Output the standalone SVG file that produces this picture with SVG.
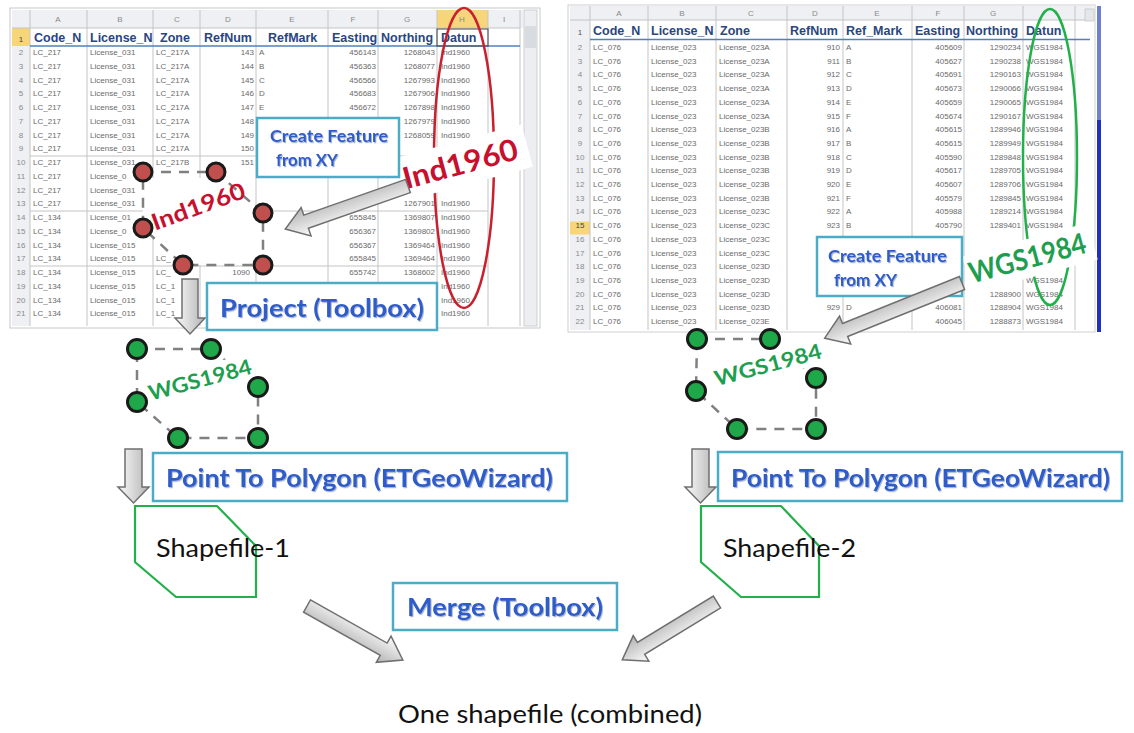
<svg xmlns="http://www.w3.org/2000/svg" width="1134" height="733" viewBox="0 0 1134 733">
<defs>
<style>
.c{font-family:"Liberation Sans",Arial,sans-serif;font-size:8px;fill:#6a6a6a}
.e{text-anchor:end}
.rn{font-family:"Liberation Sans",Arial,sans-serif;font-size:8px;fill:#8a8a8a;text-anchor:middle}
.cl{font-family:"Liberation Sans",Arial,sans-serif;font-size:8px;fill:#8a8a8a;text-anchor:middle}
.h{font-family:"Liberation Sans",Arial,sans-serif;font-size:12.5px;font-weight:bold;fill:#2a4680}
.grid{stroke:#c4c4c4;stroke-width:1}
.box{fill:#fff;stroke:#4bacc6;stroke-width:2.5}
.bt{font-family:Lato,"Liberation Sans",sans-serif;font-weight:bold;fill:#2f5bc9;filter:url(#sh)}
.plain{font-family:Lato,"Open Sans",sans-serif;fill:#111}
.dash{stroke:#808080;stroke-width:2.5;stroke-dasharray:10 8;fill:none}
.rd{fill:#c0504d;stroke:#1a1a1a;stroke-width:3}
.gd{fill:#1fa84a;stroke:#1a1a1a;stroke-width:3}
.arr{stroke:#6f6f6f;stroke-width:1.5}
.red{font-family:Lato,"Liberation Sans",sans-serif;font-weight:bold;fill:#c8102e}
.grn{font-family:Lato,"Liberation Sans",sans-serif;font-weight:bold;fill:#1e9e4f}
.shape{fill:none;stroke:#22b04b;stroke-width:2.2}
</style>
<linearGradient id="ga" x1="0" y1="0" x2="0" y2="1"><stop offset="0" stop-color="#fbfbfb"/><stop offset="1" stop-color="#b3b3b3"/></linearGradient>
<linearGradient id="gv" x1="0" y1="0" x2="1" y2="0"><stop offset="0" stop-color="#fbfbfb"/><stop offset="1" stop-color="#b3b3b3"/></linearGradient>
<filter id="sh" x="-5%" y="-20%" width="110%" height="150%"><feDropShadow dx="1" dy="1.2" stdDeviation="0.7" flood-color="#7f95c0" flood-opacity="0.7"/></filter>
</defs>
<rect width="1134" height="733" fill="#fff"/>

<!-- LEFT SPREADSHEET -->
<g id="sheet1">
<rect x="10" y="8" width="530" height="320" fill="#fff" stroke="#c8c8c8"/>
<rect x="12" y="10" width="511" height="18" fill="#eef0f3"/>
<rect x="12" y="28" width="18" height="298" fill="#eef0f3"/>
<rect x="437" y="10" width="51" height="18" fill="#f7d67a"/>
<rect x="12" y="28" width="18" height="18" fill="#f7d67a"/>
<rect x="524" y="10" width="13" height="316" fill="#eceef2" stroke="#cfcfcf"/>
<rect x="525" y="26" width="11" height="22" fill="#d8dbe0"/>
<g class="grid">
<line x1="30" y1="10" x2="30" y2="326"/><line x1="87" y1="10" x2="87" y2="326"/><line x1="153" y1="10" x2="153" y2="326"/><line x1="200" y1="10" x2="200" y2="326"/><line x1="256" y1="10" x2="256" y2="326"/><line x1="328" y1="10" x2="328" y2="326"/><line x1="378" y1="10" x2="378" y2="326"/><line x1="437" y1="10" x2="437" y2="326"/><line x1="488" y1="10" x2="488" y2="326"/><line x1="520" y1="10" x2="520" y2="326"/>
<line x1="12" y1="28" x2="520" y2="28"/>
<line x1="30" y1="156" x2="488" y2="156"/><line x1="30" y1="211" x2="488" y2="211"/><line x1="30" y1="266" x2="488" y2="266"/>
</g>
<line x1="30" y1="46" x2="520" y2="46" stroke="#4f81bd" stroke-width="1.5"/>
<rect x="437" y="29" width="51" height="17" fill="none" stroke="#444" stroke-width="1"/>
<text class="cl" y="22"><tspan x="58">A</tspan><tspan x="120">B</tspan><tspan x="177">C</tspan><tspan x="228">D</tspan><tspan x="292">E</tspan><tspan x="353">F</tspan><tspan x="407">G</tspan><tspan x="462">H</tspan><tspan x="504">I</tspan></text>
<text class="h" y="42"><tspan x="34">Code_N</tspan><tspan x="90">License_N</tspan><tspan x="160">Zone</tspan><tspan x="204">RefNum</tspan><tspan x="268">RefMark</tspan><tspan x="332">Easting</tspan><tspan x="381">Northing</tspan><tspan x="441">Datun</tspan></text>
<text class="rn"><tspan x="21" y="42" fill="#444">1</tspan><tspan x="21" y="55">2</tspan><tspan x="21" y="69">3</tspan><tspan x="21" y="82.5">4</tspan><tspan x="21" y="96">5</tspan><tspan x="21" y="110">6</tspan><tspan x="21" y="124">7</tspan><tspan x="21" y="137.5">8</tspan><tspan x="21" y="151">9</tspan><tspan x="21" y="165">10</tspan><tspan x="21" y="179">11</tspan><tspan x="21" y="192.5">12</tspan><tspan x="21" y="206">13</tspan><tspan x="21" y="220">14</tspan><tspan x="21" y="234">15</tspan><tspan x="21" y="247.5">16</tspan><tspan x="21" y="261">17</tspan><tspan x="21" y="275">18</tspan><tspan x="21" y="289">19</tspan><tspan x="21" y="302.5">20</tspan><tspan x="21" y="316">21</tspan></text>
<text class="c"><tspan x="33" y="55">LC_217</tspan><tspan x="33" y="69">LC_217</tspan><tspan x="33" y="82.5">LC_217</tspan><tspan x="33" y="96">LC_217</tspan><tspan x="33" y="110">LC_217</tspan><tspan x="33" y="124">LC_217</tspan><tspan x="33" y="137.5">LC_217</tspan><tspan x="33" y="151">LC_217</tspan><tspan x="33" y="165">LC_217</tspan><tspan x="33" y="179">LC_217</tspan><tspan x="33" y="192.5">LC_217</tspan><tspan x="33" y="206">LC_217</tspan><tspan x="33" y="220">LC_134</tspan><tspan x="33" y="234">LC_134</tspan><tspan x="33" y="247.5">LC_134</tspan><tspan x="33" y="261">LC_134</tspan><tspan x="33" y="275">LC_134</tspan><tspan x="33" y="289">LC_134</tspan><tspan x="33" y="302.5">LC_134</tspan><tspan x="33" y="316">LC_134</tspan></text>
<text class="c"><tspan x="90" y="55">License_031</tspan><tspan x="90" y="69">License_031</tspan><tspan x="90" y="82.5">License_031</tspan><tspan x="90" y="96">License_031</tspan><tspan x="90" y="110">License_031</tspan><tspan x="90" y="124">License_031</tspan><tspan x="90" y="137.5">License_031</tspan><tspan x="90" y="151">License_031</tspan><tspan x="90" y="165">License_031</tspan><tspan x="90" y="179">License_0</tspan><tspan x="90" y="192.5">License_031</tspan><tspan x="90" y="206">License_031</tspan><tspan x="90" y="220">License_01</tspan><tspan x="90" y="234">License_0</tspan><tspan x="90" y="247.5">License_015</tspan><tspan x="90" y="261">License_015</tspan><tspan x="90" y="275">License_015</tspan><tspan x="90" y="289">License_015</tspan><tspan x="90" y="302.5">License_015</tspan><tspan x="90" y="316">License_015</tspan></text>
<text class="c"><tspan x="156" y="55">LC_217A</tspan><tspan x="156" y="69">LC_217A</tspan><tspan x="156" y="82.5">LC_217A</tspan><tspan x="156" y="96">LC_217A</tspan><tspan x="156" y="110">LC_217A</tspan><tspan x="156" y="124">LC_217A</tspan><tspan x="156" y="137.5">LC_217A</tspan><tspan x="156" y="151">LC_217A</tspan><tspan x="156" y="165">LC_217B</tspan><tspan x="156" y="261">LC_</tspan><tspan x="156" y="275">LC_</tspan><tspan x="156" y="289">LC_1</tspan><tspan x="156" y="302.5">LC_1</tspan><tspan x="156" y="316">LC_1</tspan></text>
<text class="c e"><tspan x="254" y="55">143</tspan><tspan x="254" y="69">144</tspan><tspan x="254" y="82.5">145</tspan><tspan x="254" y="96">146</tspan><tspan x="254" y="110">147</tspan><tspan x="254" y="124">148</tspan><tspan x="254" y="137.5">149</tspan><tspan x="254" y="151">150</tspan><tspan x="254" y="165">151</tspan><tspan x="250" y="275">1090</tspan></text>
<text class="c"><tspan x="259" y="55">A</tspan><tspan x="259" y="69">B</tspan><tspan x="259" y="82.5">C</tspan><tspan x="259" y="96">D</tspan><tspan x="259" y="110">E</tspan></text>
<text class="c e"><tspan x="376" y="55">456143</tspan><tspan x="376" y="69">456363</tspan><tspan x="376" y="82.5">456566</tspan><tspan x="376" y="96">456683</tspan><tspan x="376" y="110">456672</tspan><tspan x="376" y="220">655845</tspan><tspan x="376" y="234">656367</tspan><tspan x="376" y="247.5">656367</tspan><tspan x="376" y="261">655845</tspan><tspan x="376" y="275">655742</tspan></text>
<text class="c e"><tspan x="435" y="55">1268043</tspan><tspan x="435" y="69">1268077</tspan><tspan x="435" y="82.5">1267993</tspan><tspan x="435" y="96">1267906</tspan><tspan x="435" y="110">1267898</tspan><tspan x="435" y="124">1267979</tspan><tspan x="435" y="137.5">1268059</tspan><tspan x="435" y="206">1267901</tspan><tspan x="435" y="220">1369807</tspan><tspan x="435" y="234">1369802</tspan><tspan x="435" y="247.5">1369464</tspan><tspan x="435" y="261">1369464</tspan><tspan x="435" y="275">1368602</tspan></text>
<text class="c"><tspan x="441" y="55">Ind1960</tspan><tspan x="441" y="69">Ind1960</tspan><tspan x="441" y="82.5">Ind1960</tspan><tspan x="441" y="96">Ind1960</tspan><tspan x="441" y="110">Ind1960</tspan><tspan x="441" y="124">Ind1960</tspan><tspan x="441" y="137.5">Ind1960</tspan><tspan x="441" y="206">Ind1960</tspan><tspan x="441" y="220">Ind1960</tspan><tspan x="441" y="234">Ind1960</tspan><tspan x="441" y="247.5">Ind1960</tspan><tspan x="441" y="261">Ind1960</tspan><tspan x="441" y="275">Ind1960</tspan><tspan x="441" y="289">Ind1960</tspan><tspan x="441" y="302.5">Ind1960</tspan><tspan x="441" y="316">Ind1960</tspan></text>
</g>

<!-- RIGHT SPREADSHEET -->
<g id="sheet2">
<rect x="568" y="5" width="527" height="327" fill="#fff" stroke="#d0d0d0"/>
<rect x="570" y="6" width="523" height="14" fill="#eef0f3"/>
<rect x="570" y="20" width="20" height="310" fill="#eef0f3"/>
<rect x="570" y="221.5" width="20" height="13" fill="#f7d67a"/>
<g class="grid">
<line x1="590" y1="6" x2="590" y2="330"/><line x1="648" y1="6" x2="648" y2="330"/><line x1="716" y1="6" x2="716" y2="330"/><line x1="787" y1="6" x2="787" y2="330"/><line x1="843" y1="6" x2="843" y2="330"/><line x1="912" y1="6" x2="912" y2="330"/><line x1="964" y1="6" x2="964" y2="330"/><line x1="1023" y1="6" x2="1023" y2="330"/><line x1="1075" y1="6" x2="1075" y2="330"/>
<line x1="570" y1="20" x2="1093" y2="20"/>
</g>
<line x1="590" y1="39.5" x2="1090" y2="39.5" stroke="#4f81bd" stroke-width="1.5"/>
<rect x="1085" y="9" width="9" height="12" fill="#e4e6ea" stroke="#bbb" stroke-width="0.6"/>
<line x1="1099" y1="6" x2="1099" y2="120" stroke="#6f7fd0" stroke-width="4"/>
<line x1="1099" y1="120" x2="1099" y2="332" stroke="#1f2fc0" stroke-width="4"/>
<text class="cl" y="16"><tspan x="619">A</tspan><tspan x="682">B</tspan><tspan x="751">C</tspan><tspan x="815">D</tspan><tspan x="877">E</tspan><tspan x="938">F</tspan><tspan x="993">G</tspan></text>
<text class="h" y="35"><tspan x="593">Code_N</tspan><tspan x="651">License_N</tspan><tspan x="720">Zone</tspan><tspan x="790">RefNum</tspan><tspan x="846">Ref_Mark</tspan><tspan x="915">Easting</tspan><tspan x="966">Northing</tspan><tspan x="1026">Datun</tspan></text>
<text class="rn"><tspan x="580" y="35" fill="#555">1</tspan><tspan x="580" y="50">2</tspan><tspan x="580" y="63.7">3</tspan><tspan x="580" y="77.4">4</tspan><tspan x="580" y="91.1">5</tspan><tspan x="580" y="104.8">6</tspan><tspan x="580" y="118.5">7</tspan><tspan x="580" y="132.2">8</tspan><tspan x="580" y="145.9">9</tspan><tspan x="580" y="159.6">10</tspan><tspan x="580" y="173.3">11</tspan><tspan x="580" y="187">12</tspan><tspan x="580" y="200.7">13</tspan><tspan x="580" y="214.4">14</tspan><tspan x="580" y="228.1" fill="#444">15</tspan><tspan x="580" y="241.8">16</tspan><tspan x="580" y="255.5">17</tspan><tspan x="580" y="269.2">18</tspan><tspan x="580" y="282.9">19</tspan><tspan x="580" y="296.6">20</tspan><tspan x="580" y="310.3">21</tspan><tspan x="580" y="324">22</tspan></text>
<text class="c"><tspan x="593" y="50">LC_076</tspan><tspan x="593" y="63.7">LC_076</tspan><tspan x="593" y="77.4">LC_076</tspan><tspan x="593" y="91.1">LC_076</tspan><tspan x="593" y="104.8">LC_076</tspan><tspan x="593" y="118.5">LC_076</tspan><tspan x="593" y="132.2">LC_076</tspan><tspan x="593" y="145.9">LC_076</tspan><tspan x="593" y="159.6">LC_076</tspan><tspan x="593" y="173.3">LC_076</tspan><tspan x="593" y="187">LC_076</tspan><tspan x="593" y="200.7">LC_076</tspan><tspan x="593" y="214.4">LC_076</tspan><tspan x="593" y="228.1">LC_076</tspan><tspan x="593" y="241.8">LC_076</tspan><tspan x="593" y="255.5">LC_076</tspan><tspan x="593" y="269.2">LC_076</tspan><tspan x="593" y="282.9">LC_076</tspan><tspan x="593" y="296.6">LC_076</tspan><tspan x="593" y="310.3">LC_076</tspan><tspan x="593" y="324">LC_076</tspan></text>
<text class="c"><tspan x="651" y="50">License_023</tspan><tspan x="651" y="63.7">License_023</tspan><tspan x="651" y="77.4">License_023</tspan><tspan x="651" y="91.1">License_023</tspan><tspan x="651" y="104.8">License_023</tspan><tspan x="651" y="118.5">License_023</tspan><tspan x="651" y="132.2">License_023</tspan><tspan x="651" y="145.9">License_023</tspan><tspan x="651" y="159.6">License_023</tspan><tspan x="651" y="173.3">License_023</tspan><tspan x="651" y="187">License_023</tspan><tspan x="651" y="200.7">License_023</tspan><tspan x="651" y="214.4">License_023</tspan><tspan x="651" y="228.1">License_023</tspan><tspan x="651" y="241.8">License_023</tspan><tspan x="651" y="255.5">License_023</tspan><tspan x="651" y="269.2">License_023</tspan><tspan x="651" y="282.9">License_023</tspan><tspan x="651" y="296.6">License_023</tspan><tspan x="651" y="310.3">License_023</tspan><tspan x="651" y="324">License_023</tspan></text>
<text class="c"><tspan x="719" y="50">License_023A</tspan><tspan x="719" y="63.7">License_023A</tspan><tspan x="719" y="77.4">License_023A</tspan><tspan x="719" y="91.1">License_023A</tspan><tspan x="719" y="104.8">License_023A</tspan><tspan x="719" y="118.5">License_023A</tspan><tspan x="719" y="132.2">License_023B</tspan><tspan x="719" y="145.9">License_023B</tspan><tspan x="719" y="159.6">License_023B</tspan><tspan x="719" y="173.3">License_023B</tspan><tspan x="719" y="187">License_023B</tspan><tspan x="719" y="200.7">License_023B</tspan><tspan x="719" y="214.4">License_023C</tspan><tspan x="719" y="228.1">License_023C</tspan><tspan x="719" y="241.8">License_023C</tspan><tspan x="719" y="255.5">License_023C</tspan><tspan x="719" y="269.2">License_023D</tspan><tspan x="719" y="282.9">License_023D</tspan><tspan x="719" y="296.6">License_023D</tspan><tspan x="719" y="310.3">License_023D</tspan><tspan x="719" y="324">License_023E</tspan></text>
<text class="c e"><tspan x="840" y="50">910</tspan><tspan x="840" y="63.7">911</tspan><tspan x="840" y="77.4">912</tspan><tspan x="840" y="91.1">913</tspan><tspan x="840" y="104.8">914</tspan><tspan x="840" y="118.5">915</tspan><tspan x="840" y="132.2">916</tspan><tspan x="840" y="145.9">917</tspan><tspan x="840" y="159.6">918</tspan><tspan x="840" y="173.3">919</tspan><tspan x="840" y="187">920</tspan><tspan x="840" y="200.7">921</tspan><tspan x="840" y="214.4">922</tspan><tspan x="840" y="228.1">923</tspan><tspan x="840" y="310.3">929</tspan></text>
<text class="c"><tspan x="846" y="50">A</tspan><tspan x="846" y="63.7">B</tspan><tspan x="846" y="77.4">C</tspan><tspan x="846" y="91.1">D</tspan><tspan x="846" y="104.8">E</tspan><tspan x="846" y="118.5">F</tspan><tspan x="846" y="132.2">A</tspan><tspan x="846" y="145.9">B</tspan><tspan x="846" y="159.6">C</tspan><tspan x="846" y="173.3">D</tspan><tspan x="846" y="187">E</tspan><tspan x="846" y="200.7">F</tspan><tspan x="846" y="214.4">A</tspan><tspan x="846" y="228.1">B</tspan><tspan x="846" y="310.3">D</tspan></text>
<text class="c e"><tspan x="962" y="50">405609</tspan><tspan x="962" y="63.7">405627</tspan><tspan x="962" y="77.4">405691</tspan><tspan x="962" y="91.1">405673</tspan><tspan x="962" y="104.8">405659</tspan><tspan x="962" y="118.5">405674</tspan><tspan x="962" y="132.2">405615</tspan><tspan x="962" y="145.9">405615</tspan><tspan x="962" y="159.6">405590</tspan><tspan x="962" y="173.3">405617</tspan><tspan x="962" y="187">405607</tspan><tspan x="962" y="200.7">405579</tspan><tspan x="962" y="214.4">405988</tspan><tspan x="962" y="228.1">405790</tspan><tspan x="962" y="310.3">406081</tspan><tspan x="962" y="324">406045</tspan></text>
<text class="c e"><tspan x="1021" y="50">1290234</tspan><tspan x="1021" y="63.7">1290238</tspan><tspan x="1021" y="77.4">1290163</tspan><tspan x="1021" y="91.1">1290066</tspan><tspan x="1021" y="104.8">1290065</tspan><tspan x="1021" y="118.5">1290167</tspan><tspan x="1021" y="132.2">1289946</tspan><tspan x="1021" y="145.9">1289949</tspan><tspan x="1021" y="159.6">1289848</tspan><tspan x="1021" y="173.3">1289705</tspan><tspan x="1021" y="187">1289706</tspan><tspan x="1021" y="200.7">1289845</tspan><tspan x="1021" y="214.4">1289214</tspan><tspan x="1021" y="228.1">1289401</tspan><tspan x="1021" y="296.6">1288900</tspan><tspan x="1021" y="310.3">1288904</tspan><tspan x="1021" y="324">1288873</tspan></text>
<text class="c"><tspan x="1026" y="50">WGS1984</tspan><tspan x="1026" y="63.7">WGS1984</tspan><tspan x="1026" y="77.4">WGS1984</tspan><tspan x="1026" y="91.1">WGS1984</tspan><tspan x="1026" y="104.8">WGS1984</tspan><tspan x="1026" y="118.5">WGS1984</tspan><tspan x="1026" y="132.2">WGS1984</tspan><tspan x="1026" y="145.9">WGS1984</tspan><tspan x="1026" y="159.6">WGS1984</tspan><tspan x="1026" y="173.3">WGS1984</tspan><tspan x="1026" y="187">WGS1984</tspan><tspan x="1026" y="200.7">WGS1984</tspan><tspan x="1026" y="214.4">WGS1984</tspan><tspan x="1026" y="228.1">WGS1984</tspan><tspan x="1026" y="282.9">WGS1984</tspan><tspan x="1026" y="296.6">WGS1984</tspan><tspan x="1026" y="310.3">WGS1984</tspan><tspan x="1026" y="324">WGS1984</tspan></text>
</g>

<!-- highlight ellipses -->
<g id="ellipses">
<ellipse cx="464" cy="158" rx="30" ry="150" fill="none" stroke="#c8202e" stroke-width="2.5"/>
<ellipse cx="1050" cy="157" rx="27" ry="148" fill="none" stroke="#22b04b" stroke-width="2.5"/>
</g>

<!-- big datum labels -->
<g id="label-ind1960">
<rect x="-67.5" y="-22" width="135" height="44" fill="#fff" transform="translate(462 163) rotate(-15)"/>
<text class="red" font-size="30" text-anchor="middle" textLength="118" lengthAdjust="spacingAndGlyphs" transform="translate(463 174) rotate(-15)">Ind1960</text>
</g>
<g id="label-wgs1984-top">
<rect x="-65" y="-19" width="130" height="38" fill="#fff" transform="translate(1030 258) rotate(-15)"/>
<text class="grn" font-size="29" text-anchor="middle" textLength="120" lengthAdjust="spacingAndGlyphs" transform="translate(1030 268) rotate(-15)">WGS1984</text>
</g>

<!-- Create Feature boxes -->
<g id="create-left">
<rect class="box" x="257" y="118" width="142" height="59"/>
<text class="bt" font-size="17" x="270" y="142" textLength="118" lengthAdjust="spacingAndGlyphs">Create Feature</text>
<text class="bt" font-size="17" x="276" y="166" textLength="62" lengthAdjust="spacingAndGlyphs">from XY</text>
</g>
<g id="create-right">
<rect class="box" x="817" y="237" width="145" height="59"/>
<text class="bt" font-size="17" x="828" y="262" textLength="119" lengthAdjust="spacingAndGlyphs">Create Feature</text>
<text class="bt" font-size="17" x="834" y="286" textLength="63" lengthAdjust="spacingAndGlyphs">from XY</text>
</g>

<!-- red point cluster -->
<g id="points-ind1960">
<polygon points="143,178 222,178 263,214 263,265 183,265 143,228" fill="#fff"/>
<path class="dash" d="M143,172 L216,172 L263,213 L263,265 L183,265 L143,228 Z"/>
<text class="red" font-size="23" text-anchor="middle" textLength="98" lengthAdjust="spacingAndGlyphs" transform="translate(201 214) rotate(-20)">Ind1960</text>
<circle class="rd" cx="143" cy="172" r="9"/><circle class="rd" cx="216" cy="172" r="9"/><circle class="rd" cx="263" cy="213" r="9"/><circle class="rd" cx="143" cy="228" r="9"/><circle class="rd" cx="183" cy="265" r="9"/><circle class="rd" cx="263" cy="265" r="9"/>
</g>

<!-- green point clusters -->
<g id="points-wgs-left">
<path class="dash" d="M137,349 L211,349 L258,387 L258,438 L178,438 L137,402 Z"/>
<rect x="-48" y="-13" width="96" height="26" fill="#fff" transform="translate(203 379) rotate(-15)"/>
<text class="grn" font-size="21" text-anchor="middle" textLength="106" lengthAdjust="spacingAndGlyphs" transform="translate(202 387) rotate(-15)">WGS1984</text>
<circle class="gd" cx="137" cy="349" r="9.5"/><circle class="gd" cx="211" cy="349" r="9.5"/><circle class="gd" cx="258" cy="387" r="9.5"/><circle class="gd" cx="137" cy="402" r="9.5"/><circle class="gd" cx="178" cy="438" r="9.5"/><circle class="gd" cx="258" cy="438" r="9.5"/>
</g>
<g id="points-wgs-right">
<path class="dash" d="M697,339 L770,339 L816,378 L816,429 L737,429 L696,391 Z"/>
<rect x="-50" y="-13" width="100" height="26" fill="#fff" transform="translate(770 364) rotate(-15)"/>
<text class="grn" font-size="21" text-anchor="middle" textLength="110" lengthAdjust="spacingAndGlyphs" transform="translate(770 372) rotate(-15)">WGS1984</text>
<circle class="gd" cx="697" cy="339" r="9.5"/><circle class="gd" cx="770" cy="339" r="9.5"/><circle class="gd" cx="816" cy="378" r="9.5"/><circle class="gd" cx="696" cy="391" r="9.5"/><circle class="gd" cx="737" cy="429" r="9.5"/><circle class="gd" cx="816" cy="429" r="9.5"/>
</g>

<!-- connectors (block arrows) -->
<g id="connectors">
<polygon class="arr" fill="url(#ga)" transform="translate(408 186) rotate(160.7)" points="0,-7 108,-7 108,-15 130,0 108,15 108,7 0,7"/>
<polygon class="arr" fill="url(#ga)" transform="translate(962 283) rotate(158.1)" points="0,-7 126,-7 126,-15 148,0 126,15 126,7 0,7"/>
<polygon class="arr" fill="url(#gv)" points="182,279 198,279 198,318 205,318 190,334 175,318 182,318"/>
<polygon class="arr" fill="url(#gv)" points="125,449 142,449 142,487 149,487 133.5,503 118,487 125,487"/>
<polygon class="arr" fill="url(#gv)" points="692,449 709,449 709,487 716,487 700.5,503 685,487 692,487"/>
<polygon class="arr" fill="url(#ga)" transform="translate(307 606) rotate(29.4)" points="0,-7 88,-7 88,-15 110,0 88,15 88,7 0,7"/>
<polygon class="arr" fill="url(#ga)" transform="translate(717 602) rotate(148.6)" points="0,-7 89,-7 89,-15 111,0 89,15 89,7 0,7"/>
</g>

<!-- tool boxes -->
<g id="project">
<rect class="box" x="207" y="283" width="230" height="47"/>
<text class="bt" font-size="25" x="220" y="317" textLength="204" lengthAdjust="spacingAndGlyphs">Project (Toolbox)</text>
</g>
<g id="ptp-left">
<rect class="box" x="153" y="453" width="414" height="48"/>
<text class="bt" font-size="25" x="166" y="487" textLength="387" lengthAdjust="spacingAndGlyphs">Point To Polygon (ETGeoWizard)</text>
</g>
<g id="ptp-right">
<rect class="box" x="718" y="452" width="404" height="49"/>
<text class="bt" font-size="25" x="731" y="487" textLength="379" lengthAdjust="spacingAndGlyphs">Point To Polygon (ETGeoWizard)</text>
</g>
<g id="merge">
<rect class="box" x="393" y="583" width="224" height="47"/>
<text class="bt" font-size="24" x="407" y="616" textLength="196" lengthAdjust="spacingAndGlyphs">Merge (Toolbox)</text>
</g>

<!-- shapefiles -->
<g id="shapefile1">
<polygon class="shape" points="135,506 217,506 256,546 256,597 176,597 135,562"/>
<text class="plain" font-size="25" x="156" y="557" textLength="134" lengthAdjust="spacingAndGlyphs">Shapefile-1</text>
</g>
<g id="shapefile2">
<polygon class="shape" points="701,506 781,506 819,546 819,597 741,597 701,562"/>
<text class="plain" font-size="25" x="723" y="557" textLength="133" lengthAdjust="spacingAndGlyphs">Shapefile-2</text>
</g>
<g id="combined">
<text class="plain" font-size="25" x="398" y="723" textLength="304" lengthAdjust="spacingAndGlyphs">One shapefile (combined)</text>
</g>
</svg>
